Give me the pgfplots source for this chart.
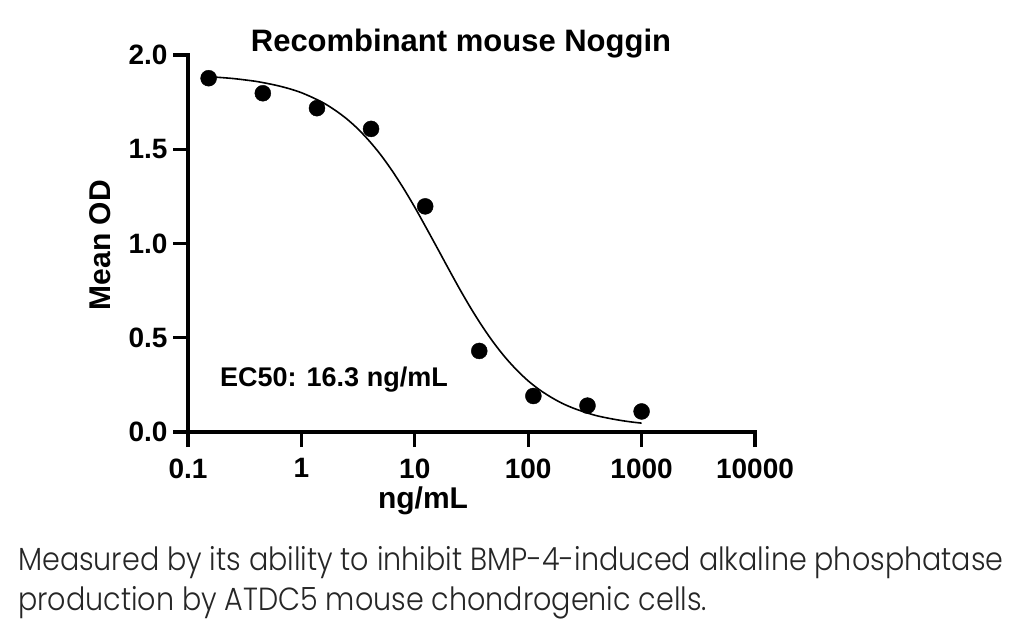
\documentclass[border=0pt]{standalone}
\usepackage{pgfplots}
\pgfplotsset{compat=1.18}
\usepackage{fontspec}
\setmainfont{Liberation Sans}
\newfontfamily\capfont{Poppins Light}[FakeStretch=0.893]

% Fitted four-parameter logistic curve (top 1.90, bottom 0.02, EC50 16.3, slope 1.03)
\pgfplotstableread{
x        y
0.152    1.885
0.1995   1.880
0.2512   1.875
0.3162   1.868
0.3981   1.860
0.5012   1.849
0.6310   1.836
0.7943   1.820
1.0000   1.800
1.2589   1.774
1.5849   1.744
1.9953   1.706
2.5119   1.661
3.1623   1.607
3.9811   1.543
5.0119   1.470
6.3096   1.386
7.9433   1.293
10.000   1.192
12.589   1.084
15.849   0.974
19.953   0.863
25.119   0.754
31.623   0.651
39.811   0.556
50.119   0.470
63.096   0.394
79.433   0.328
100.00   0.271
125.89   0.224
158.49   0.185
199.53   0.152
251.19   0.126
316.23   0.105
398.11   0.087
501.19   0.074
630.96   0.063
794.33   0.054
1000.0   0.047
}\fitcurve

% Mean OD at threefold dilutions
\pgfplotstableread{
x        y
0.152    1.877
0.457    1.797
1.372    1.718
4.115    1.608
12.35    1.197
37.04    0.430
111.1    0.191
333.3    0.140
1000     0.109
}\meanod

\begin{document}
\begin{tikzpicture}
\useasboundingbox (0,0) rectangle (1024pt,632pt);
\begin{axis}[
  at={(188pt,200pt)}, anchor=south west,
  scale only axis, width=567pt, height=377pt,
  xmode=log, log basis x=10,
  xmin=0.1, xmax=10000, ymin=0, ymax=2,
  axis x line=bottom, axis y line=left,
  axis line style={-, line width=3.2pt, line cap=rect},
  xtick={0.1,1,10,100,1000,10000},
  xticklabels={0.1,1,10,100,1000,10000},
  ytick={0,0.5,1,1.5,2},
  yticklabels={0.0,0.5,1.0,1.5,2.0},
  minor tick num=0,
  tick align=outside,
  major tick length=15pt,
  tick style={line width=3.2pt, black},
  ticklabel style={font=\fontsize{28}{30}\selectfont\bfseries},
  xticklabel style={yshift=-8pt},
  yticklabel style={xshift=-2pt},
  clip=false,
]
\addplot[black, line width=1.6pt, smooth, no marks] table {\fitcurve};
\addplot[only marks, mark=*, mark size=8pt, mark options={fill=black, draw=black}] table {\meanod};
\end{axis}
\node[font=\fontsize{31}{33}\selectfont\bfseries] at (461pt,588pt) {Recombinant mouse Noggin};
\node[font=\fontsize{30}{32}\selectfont\bfseries, rotate=90] at (100pt,387pt) {Mean OD};
\node[font=\fontsize{30}{32}\selectfont\bfseries] at (423pt,131pt) {ng/mL};
\node[font=\fontsize{27}{29}\selectfont\bfseries, anchor=west, inner sep=0pt] at (220pt,252pt) {EC50: 16.3 ng/mL};
\node[font=\capfont\fontsize{32}{40}\selectfont, color=black!85, anchor=west, inner sep=0pt] at (18pt,69pt) {Measured by its ability to inhibit BMP-4-induced alkaline phosphatase};
\node[font=\capfont\fontsize{32}{40}\selectfont, color=black!85, anchor=west, inner sep=0pt] at (18pt,29pt) {production by ATDC5 mouse chondrogenic cells.};
\end{tikzpicture}
\end{document}
